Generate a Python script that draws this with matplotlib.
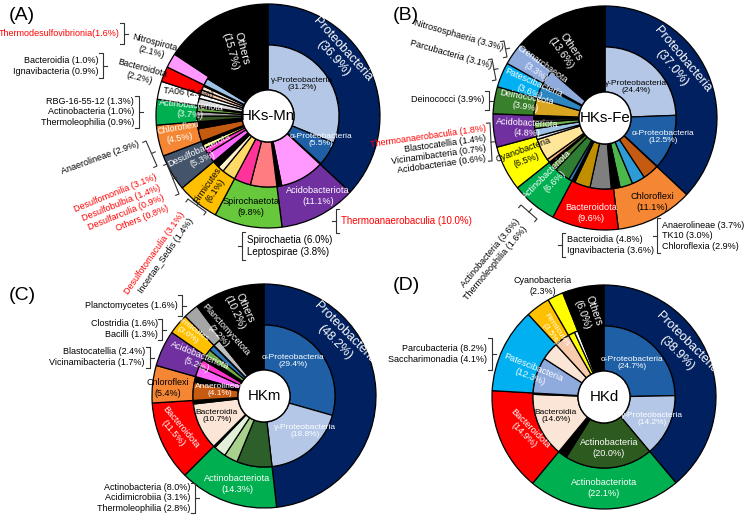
import numpy as np
import matplotlib
matplotlib.use("Agg")
import matplotlib.pyplot as plt
from matplotlib.patches import Circle

plt.rcParams["font.family"] = ["Liberation Sans", "DejaVu Sans"]

W, H = 748, 519
R_OUT, R_MID, R_HOLE = 112, 71, 26
RED = "#ff0000"

# =============================================================================
# Data (outer ring = phylum %, inner ring = class %, clockwise from 12 o'clock)
# =============================================================================

A_phyla = ["Proteobacteria", "Acidobacteriota", "Spirochaetota", "Firmicutes",
           "Desulfobacterota", "Chloroflexi", "Actinobacteriota", "TA06",
           "Bacteroidota", "Nitrospirota", "Others"]
A_phyla_pct = [36.9, 11.1, 9.8, 6.1, 5.3, 4.5, 3.7, 2.6, 2.2, 2.1, 15.7]
A_class_pct = [31.2, 5.5, 0.2, 10.0, 1.1, 6.0, 3.8, 3.1, 1.4, 1.6,
               2.2, 1.4, 0.9, 0.8, 2.9, 1.6, 1.3, 1.0, 0.9, 0.5,
               1.6, 1.0, 1.0, 0.9, 0.3, 1.6, 0.5, 15.7]

B_phyla = ["Proteobacteria", "Chloroflexi", "Bacteroidota", "Actinobacteriota",
           "Cyanobacteria", "Acidobacteriota", "Deinococcota", "Patescibacteria",
           "Crenarchaeota", "Others"]
B_phyla_pct = [37.0, 11.1, 9.6, 6.6, 6.5, 4.8, 3.9, 3.6, 3.3, 13.6]
B_class_pct = [24.4, 12.5, 0.1, 3.7, 3.0, 2.9, 1.5, 0.5, 4.8, 3.6, 0.7,
               0.8, 3.6, 1.6, 0.6, 0.8, 5.0, 0.7, 1.8, 1.4, 0.7, 0.9,
               3.9, 3.1, 0.5, 3.3, 13.6]

C_phyla = ["Proteobacteria", "Actinobacteriota", "Bacteroidota", "Chloroflexi",
           "Acidobacteriota", "Firmicutes", "Planctomycetota", "Others"]
C_phyla_pct = [48.2, 14.3, 11.5, 5.4, 5.2, 3.0, 2.2, 10.2]
C_class_pct = [29.4, 18.8, 8.0, 3.1, 2.8, 0.4, 10.7, 0.8, 4.1, 1.3,
               2.4, 1.7, 1.1, 1.6, 1.3, 0.1, 1.6, 0.6, 10.2]

D_phyla = ["Proteobacteria", "Actinobacteriota", "Bacteroidota", "Patescibacteria",
           "Firmicutes", "Cyanobacteria", "Others"]
D_phyla_pct = [38.9, 22.1, 14.9, 12.3, 3.5, 2.3, 6.0]
D_class_pct = [24.7, 14.2, 20.0, 2.1, 14.6, 0.3, 8.2, 4.1, 3.5, 1.5, 0.8, 6.0]

# colours
NAVY, PURPLE, ORANGE = "#002060", "#7030a0", "#f58634"
GREEN, GOLD = "#00b050", "#ffc000"
LB, MB = "#b4c7e7", "#1f5fa6"

A_phyla_col = [NAVY, PURPLE, "#66c83a", GOLD, "#44546a", ORANGE, GREEN,
               "white", "#ff0000", "#ff99ff", "black"]
A_class_col = [LB, MB, "k", "#ff99ff", "k", "#ff7c80", "#ff3399", "#ffd966",
               "#fff2cc", "k", "#ff66ff", "#ff33cc", "#ffff66", "k", "#c55a11",
               "k", "#375623", "#a6a6a6", "#70ad47", "k", "#d9d9d9", "white",
               "#f8cbad", "#fbe5d6", "k", "#9dc3e6", "k", "k"]

B_phyla_col = [NAVY, ORANGE, "#ff0000", GREEN, "#ffff00", PURPLE, "#38802c",
               "#00b0f0", "#8faadc", "black"]
B_class_col = [LB, MB, "k", "#c55a11", "#2e9bd6", "#4cb84c", "k", "k",
               "#7f7f7f", "#bf8f00", "k", "#2e75b6", "#2e7d32", "#548235", "k",
               "#f4b183", "#ffe699", "#deebf7", "#9dc3e6", "#70ad47", "#404040",
               "k", "#d9a520", "#2e86c1", "k", "#8faadc", "k"]

C_phyla_col = [NAVY, GREEN, "#ff0000", ORANGE, PURPLE, GOLD, "#a6a6a6", "black"]
C_class_col = [MB, LB, "#2d5f2a", "#a9d18e", "#e2f0d9", "k", "#fbe5d6", "k",
               "#c55a11", "k", "#ff66ff", "#ff33cc", "k", "#70ad47", "#2e75b6",
               "k", "#bfbfbf", "k", "k"]

D_phyla_col = [NAVY, GREEN, "#ff0000", "#00b0f0", GOLD, "#ffff00", "black"]
D_class_col = [MB, LB, "#2d5a1e", "k", "#fbe5d6", "k", "#8faadc", "#fbe5d6",
               "#f8cbad", "#ffff00", "white", "k"]

# =============================================================================
# Helpers (all positions in pixels, y measured from the top)
# =============================================================================

fig = plt.figure(figsize=(W / 100, H / 100), dpi=100)
ax = fig.add_axes([0, 0, 1, 1])


def donut(cx, cy, outer, outer_col, inner, inner_col, name):
    c = (cx, H - cy)
    wp = dict(edgecolor="black", linewidth=0.9)
    ax.pie(outer, colors=outer_col, radius=R_OUT, center=c, startangle=90,
           counterclock=False, wedgeprops=dict(width=R_OUT - R_MID, **wp))
    ax.pie(inner, colors=inner_col, radius=R_MID, center=c, startangle=90,
           counterclock=False, wedgeprops=dict(width=R_MID - R_HOLE, **wp))
    ax.add_patch(Circle(c, R_HOLE, facecolor="white", edgecolor="black",
                        lw=1.0, zorder=3))
    ax.text(c[0], c[1], name, ha="center", va="center", fontsize=10.8, zorder=4)


def label(x, y, s, rot=0, color="black", size=6.5, ha="center", va="center"):
    ax.text(x, H - y, s, rotation=rot, color=color, fontsize=size, ha=ha,
            va=va, rotation_mode="anchor", linespacing=1.15, zorder=5,
            multialignment=ha if ha != "center" else "center")


def plabel(names, pct, name, x, y, rot=0, color="white", size=6.6):
    v = pct[names.index(name)]
    label(x, y, f"{name}\n({v:.1f}%)", rot, color, size)


def bracket(p0, p1, toward, arm=3.5, tick=4.0):
    p0 = np.array(p0, float)
    p1 = np.array(p1, float)
    d = (p1 - p0) / np.linalg.norm(p1 - p0)
    n = np.array([-d[1], d[0]])
    mid = (p0 + p1) / 2
    if np.dot(n, np.array(toward, float) - mid) < 0:
        n = -n
    pts = [p0 - n * arm, p0, p1, p1 - n * arm]
    ax.plot([p[0] for p in pts], [H - p[1] for p in pts], color="#333333",
            lw=0.8, solid_joinstyle="round", zorder=5)
    q = mid + n * tick
    ax.plot([mid[0], q[0]], [H - mid[1], H - q[1]], color="#333333", lw=0.8,
            zorder=5)


# =============================================================================
# (A) HKs-Mn
# =============================================================================

donut(268, 116, A_phyla_pct, A_phyla_col, A_class_pct, A_class_col, "HKs-Mn")
label(22, 16, "(A)", size=14)
plabel(A_phyla, A_phyla_pct, "Proteobacteria", 338, 54, -48, size=9)
plabel(A_phyla, A_phyla_pct, "Others", 236, 50, -75, size=8)
label(302, 84, "γ-Proteobacteria\n(31.2%)", size=6)
label(321, 140, "α-Proteobacteria\n(5.5%)", color="white", size=6)
plabel(A_phyla, A_phyla_pct, "Acidobacteriota", 318, 196)
plabel(A_phyla, A_phyla_pct, "Spirochaetota", 251, 207, color="black")
plabel(A_phyla, A_phyla_pct, "Firmicutes", 211, 188, 55, color="black", size=6.5)
plabel(A_phyla, A_phyla_pct, "Desulfobacterota", 201, 155, 25, size=6.5)
plabel(A_phyla, A_phyla_pct, "Chloroflexi", 179, 133, 10, size=6.5)
plabel(A_phyla, A_phyla_pct, "Actinobacteriota", 191, 110, -5, size=6.5)
label(188, 93, "TA06 (2.6%)", -5)
plabel(A_phyla, A_phyla_pct, "Nitrospirota", 153, 47, -15, color="black", size=6.5)
plabel(A_phyla, A_phyla_pct, "Bacteroidota", 141, 73, -15, color="black", size=6.5)

label(120, 33, "Thermodesulfovibrionia(1.6%)", color=RED, ha="right")
bracket((124, 23), (124, 44), (135, 34))
label(99, 66, "Bacteroidia (1.0%)\nIgnavibacteria (0.9%)", ha="right")
bracket((103, 53), (103, 78), (115, 66))
label(134, 112, "RBG-16-55-12 (1.3%)\nActinobacteria (1.0%)\nThermoleophilia (0.9%)",
      ha="right")
bracket((139, 96), (139, 128), (150, 112))
label(100, 158, "Anaerolineae (2.9%)", 20)
bracket((146, 141), (157, 166), (175, 148))
for i, s in enumerate(["Desulfomonilia (3.1%)", "Desulfobulbia (1.4%)",
                       "Desulfarculia (0.9%)", "Others (0.8%)"]):
    label(156 + 4.1 * i, 177 + 10.3 * i, s, 22, RED, ha="right")
bracket((167, 164), (179, 194), (200, 172))
label(183, 213, "Desulfotomaculia (3.1%)", 55, RED, ha="right")
label(192, 219, "Incertae_Sedis (1.4%)", 55, ha="right")
bracket((188, 199), (206, 212), (214, 200))
label(341, 221, "Thermoanaerobaculia (10.0%)", color=RED, size=7, ha="left")
bracket((336, 209), (336, 233), (325, 221))
label(247, 246, "Spirochaetia (6.0%)\nLeptospirae (3.8%)", size=7, ha="left")
bracket((242, 232), (242, 260), (236, 246))

# =============================================================================
# (B) HKs-Fe
# =============================================================================

donut(605, 118, B_phyla_pct, B_phyla_col, B_class_pct, B_class_col, "HKs-Fe")
label(406, 16, "(B)", size=14)
plabel(B_phyla, B_phyla_pct, "Proteobacteria", 677, 64, -50, size=9)
plabel(B_phyla, B_phyla_pct, "Others", 566, 50, -55, size=7.5)
plabel(B_phyla, B_phyla_pct, "Crenarchaeota", 539, 68, -35, size=6.5)
plabel(B_phyla, B_phyla_pct, "Patescibacteria", 532, 87, -23, size=6.5)
plabel(B_phyla, B_phyla_pct, "Deinococcota", 526, 102, -10, size=6.5)
plabel(B_phyla, B_phyla_pct, "Acidobacteriota", 527, 128, -3, size=6.5)
plabel(B_phyla, B_phyla_pct, "Cyanobacteria", 525, 155, 20, color="black", size=6.5)
plabel(B_phyla, B_phyla_pct, "Actinobacteriota", 551, 178, 45, size=6.5)
plabel(B_phyla, B_phyla_pct, "Bacteroidota", 591, 213)
plabel(B_phyla, B_phyla_pct, "Chloroflexi", 652, 202, color="black")
label(636, 87, "γ-Proteobacteria\n(24.4%)", size=6)
label(663, 137, "α-Proteobacteria\n(12.5%)", color="white", size=6)

label(459, 35, "Nitrososphaeria (3.3%)", -16)
bracket((504, 41), (507, 57), (516, 50))
label(451, 54, "Parcubacteria (3.1%)", -16)
bracket((492, 59), (496, 80), (506, 69))
label(484, 100, "Deinococci (3.9%)", ha="right")
bracket((489, 91), (489, 110), (500, 100))
for i, s in enumerate(["Thermoanaerobaculia (1.8%)", "Blastocatellia (1.4%)",
                       "Vicinamibacteria (0.7%)", "Acidobacteriae (0.6%)"]):
    label(486, 128 + 10 * i, s, 8, RED if i == 0 else "black", ha="right")
bracket((490, 123), (492, 161), (502, 142))
label(518, 220, "Actinobacteria (3.6%)", 50, ha="right")
label(526, 227, "Thermoleophilia (1.6%)", 50, ha="right")
bracket((521, 205), (537, 219), (542, 206))
label(567, 245, "Bacteroidia (4.8%)\nIgnavibacteria (3.6%)", size=6.6, ha="left")
bracket((562, 233), (562, 257), (556, 245))
label(662, 236, "Anaerolineae (3.7%)\nTK10 (3.0%)\nChloroflexia (2.9%)", size=6.5,
      ha="left")
bracket((657, 218), (657, 253), (651, 236))

# =============================================================================
# (C) HKm
# =============================================================================

donut(264, 396, C_phyla_pct, C_phyla_col, C_class_pct, C_class_col, "HKm")
label(22, 296, "(C)", size=14)
plabel(C_phyla, C_phyla_pct, "Proteobacteria", 340, 338, -45, size=9)
plabel(C_phyla, C_phyla_pct, "Others", 240, 310, -65, size=7.5)
plabel(C_phyla, C_phyla_pct, "Planctomycetota", 222, 333, -48, size=6.5)
plabel(C_phyla, C_phyla_pct, "Firmicutes", 190, 332, -35, size=6)
plabel(C_phyla, C_phyla_pct, "Acidobacteriota", 198, 360, -22, size=6.5)
plabel(C_phyla, C_phyla_pct, "Chloroflexi", 168, 388, color="black", size=6.5)
label(220, 390, "Anaerolineae\n(4.1%)", color="white", size=6)
plabel(C_phyla, C_phyla_pct, "Bacteroidota", 177, 430, -50)
label(217, 416, "Bacteroidia\n(10.7%)", size=6)
plabel(C_phyla, C_phyla_pct, "Actinobacteriota", 237, 484)
label(293, 361, "α-Proteobacteria\n(29.4%)", color="white", size=6)
label(305, 431, "γ-Proteobacteria\n(18.8%)", color="white", size=6)

label(178, 305, "Planctomycetes (1.6%)", ha="right")
bracket((182, 295), (182, 316), (193, 305))
label(158, 329, "Clostridia (1.6%)\nBacilli (1.3%)", ha="right")
bracket((162, 319), (162, 340), (173, 329))
label(145, 357, "Blastocatellia (2.4%)\nVicinamibacteria (1.7%)", ha="right")
bracket((150, 347), (150, 368), (161, 357))
label(190, 498, "Actinobacteria (8.0%)\nAcidimicrobiia (3.1%)\nThermoleophilia (2.8%)",
      ha="right")
bracket((195, 483), (195, 513), (206, 498))

# =============================================================================
# (D) HKd
# =============================================================================

donut(604, 397, D_phyla_pct, D_phyla_col, D_class_pct, D_class_col, "HKd")
label(406, 286, "(D)", size=14)
plabel(D_phyla, D_phyla_pct, "Proteobacteria", 682, 348, -45, size=9)
plabel(D_phyla, D_phyla_pct, "Others", 588, 313, -70, size=7.5)
plabel(D_phyla, D_phyla_pct, "Firmicutes", 554, 332, -55, size=6)
plabel(D_phyla, D_phyla_pct, "Patescibacteria", 532, 372, -22)
plabel(D_phyla, D_phyla_pct, "Bacteroidota", 527, 432, -45)
label(556, 416, "Bacteroidia\n(14.6%)", size=6)
label(609, 448, "Actinobacteria\n(20.0%)", color="white", size=6.6)
plabel(D_phyla, D_phyla_pct, "Actinobacteriota", 604, 488)
label(632, 363, "α-Proteobacteria\n(24.7%)", color="white", size=6)
label(652, 419, "γ-Proteobacteria\n(14.2%)", color="white", size=6)

plabel(D_phyla, D_phyla_pct, "Cyanobacteria", 543, 286, color="black", size=6.5)
label(487, 354, "Parcubacteria (8.2%)\nSaccharimonadia (4.1%)", ha="right")
bracket((492, 338), (492, 370), (503, 354))

ax.set_xlim(0, W)
ax.set_ylim(0, H)
ax.set_aspect("equal")
ax.axis("off")
fig.savefig("out.png", dpi=100, facecolor="white")
